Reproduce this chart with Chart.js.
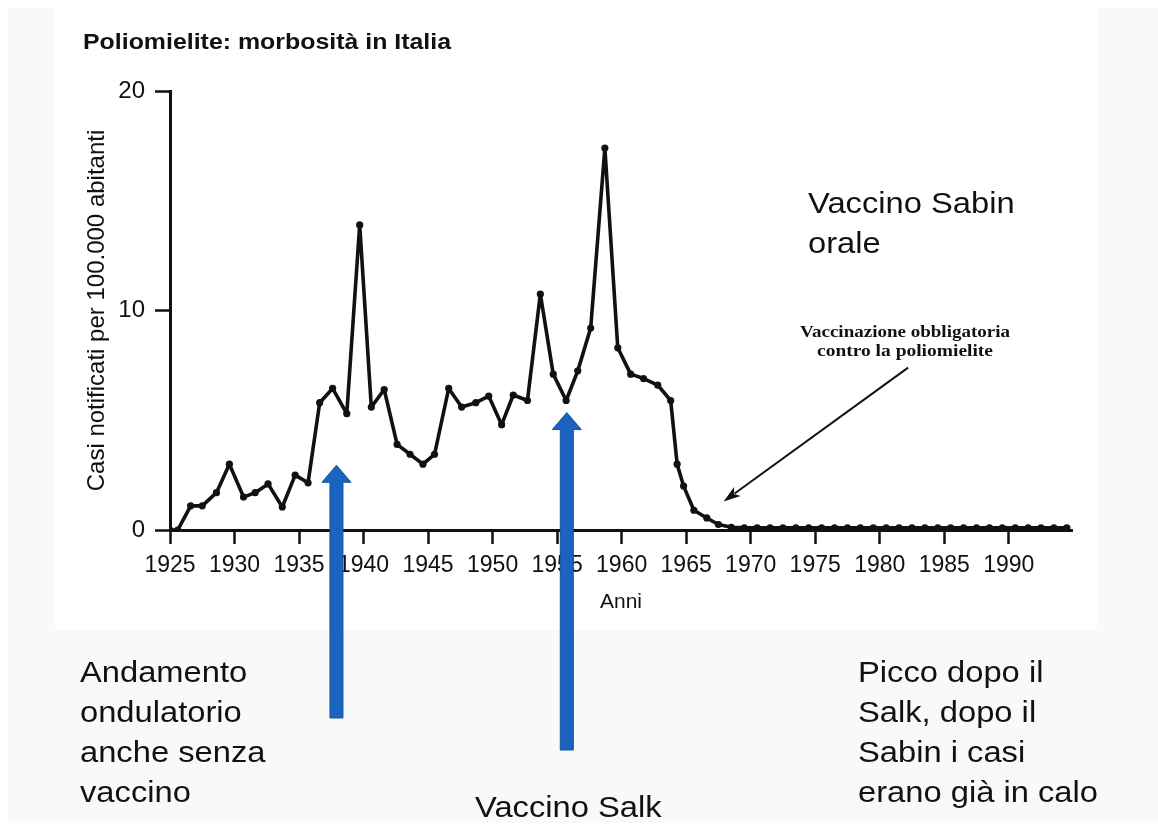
<!DOCTYPE html>
<html>
<head>
<meta charset="utf-8">
<script src="https://cdn.jsdelivr.net/npm/chart.js@4.4.1/dist/chart.umd.min.js"></script>
<style>
  html, body { margin: 0; padding: 0; background: #fff; }
  #wrap { width: 1158px; height: 827px; }
</style>
</head>
<body>
<div id="wrap"><canvas id="polio" width="1158" height="827"></canvas></div>
<script>
// ── Data (cases per 100.000 inhabitants) ──
const years = [
  1925, 1925.6, 1926.6, 1927.5, 1928.6, 1929.6, 1930.7, 1931.6, 1932.6, 1933.7,
  1934.7, 1935.7, 1936.6, 1937.6, 1938.7, 1939.7, 1940.6, 1941.6, 1942.6, 1943.6,
  1944.6, 1945.5, 1946.6, 1947.6, 1948.7, 1949.7, 1950.7, 1951.6, 1952.7, 1953.7,
  1954.7, 1955.7, 1956.6, 1957.6, 1958.7, 1959.7, 1960.7, 1961.7, 1962.8, 1963.8,
  1964.3, 1964.8, 1965.6, 1966.6, 1967.5, 1968.5, 1969.5, 1970.5, 1971.5, 1972.5,
  1973.5, 1974.5, 1975.5, 1976.5, 1977.5, 1978.5, 1979.5, 1980.5, 1981.5, 1982.5,
  1983.5, 1984.5, 1985.5, 1986.5, 1987.5, 1988.5, 1989.5, 1990.5, 1991.5, 1992.5,
  1993.5, 1994.5
];
const cases = [
  0, 0, 1.1, 1.1, 1.7, 3.0, 1.5, 1.7, 2.1, 1.05,
  2.5, 2.15, 5.8, 6.45, 5.3, 13.9, 5.6, 6.4, 3.9, 3.45,
  3.0, 3.45, 6.45, 5.6, 5.8, 6.1, 4.8, 6.15, 5.9, 10.75,
  7.1, 5.9, 7.25, 9.2, 17.4, 8.3, 7.1, 6.9, 6.6, 5.9,
  3.0, 2.0, 0.9, 0.55, 0.25, 0.12, 0.1, 0.1, 0.1, 0.1,
  0.1, 0.1, 0.1, 0.1, 0.1, 0.1, 0.1, 0.1, 0.1, 0.1,
  0.1, 0.1, 0.1, 0.1, 0.1, 0.1, 0.1, 0.1, 0.1, 0.1,
  0.1, 0.1
];
const xTickYears = [1925, 1930, 1935, 1940, 1945, 1950, 1955, 1960, 1965, 1970, 1975, 1980, 1985, 1990];
const yTickValues = [0, 10, 20];

const chartTitle = 'Poliomielite: morbosità in Italia';
const yTitle = 'Casi notificati per 100.000 abitanti';
const xTitle = 'Anni';
const noteSmall = ['Vaccinazione obbligatoria', 'contro la poliomielite'];
const noteSabin = ['Vaccino Sabin', 'orale'];
const noteLeft = ['Andamento', 'ondulatorio', 'anche senza', 'vaccino'];
const noteSalk = 'Vaccino Salk';
const noteRight = ['Picco dopo il', 'Salk, dopo il', 'Sabin i casi', 'erano già in calo'];

const INK = '#111';
const BLUE = '#1a63be';
const SANS = '"Liberation Sans", Arial, sans-serif';

// ── Drawing helpers ──
function drawText(ctx, text, x, y, font, opts = {}) {
  ctx.save();
  ctx.font = font;
  ctx.fillStyle = opts.color || INK;
  ctx.textBaseline = 'alphabetic';
  ctx.textAlign = opts.align || 'left';
  let sx = opts.sx || 1;
  if (opts.width) sx = opts.width / ctx.measureText(text).width;
  ctx.translate(x, y);
  ctx.scale(sx, 1);
  ctx.fillText(text, 0, 0);
  ctx.restore();
}

function upArrow(ctx, x, tipY, bottomY) {
  const shaft = 13, head = 29, headH = 17;
  ctx.save();
  ctx.beginPath();
  ctx.moveTo(x, tipY);
  ctx.lineTo(x + head / 2, tipY + headH);
  ctx.lineTo(x + shaft / 2, tipY + headH);
  ctx.lineTo(x + shaft / 2, bottomY);
  ctx.lineTo(x - shaft / 2, bottomY);
  ctx.lineTo(x - shaft / 2, tipY + headH);
  ctx.lineTo(x - head / 2, tipY + headH);
  ctx.closePath();
  ctx.fillStyle = BLUE;
  ctx.fill();
  ctx.strokeStyle = '#16529c';
  ctx.lineWidth = 1;
  ctx.stroke();
  ctx.restore();
}

function blackArrow(ctx, x1, y1, x2, y2) {
  const a = Math.atan2(y2 - y1, x2 - x1);
  const len = 17, half = 5.5;
  ctx.save();
  ctx.strokeStyle = INK;
  ctx.fillStyle = INK;
  ctx.lineWidth = 2;
  ctx.beginPath();
  ctx.moveTo(x1, y1);
  ctx.lineTo(x2 - Math.cos(a) * len * 0.8, y2 - Math.sin(a) * len * 0.8);
  ctx.stroke();
  ctx.beginPath();
  ctx.moveTo(x2, y2);
  ctx.lineTo(x2 - Math.cos(a) * len - Math.sin(a) * half, y2 - Math.sin(a) * len + Math.cos(a) * half);
  ctx.lineTo(x2 - Math.cos(a) * len * 0.75, y2 - Math.sin(a) * len * 0.75);
  ctx.lineTo(x2 - Math.cos(a) * len + Math.sin(a) * half, y2 - Math.sin(a) * len - Math.cos(a) * half);
  ctx.closePath();
  ctx.fill();
  ctx.restore();
}

// ── Plugins ──
const slideBackground = {
  id: 'slideBackground',
  beforeDraw(chart) {
    const ctx = chart.ctx;
    ctx.save();
    ctx.fillStyle = '#fff';
    ctx.fillRect(0, 0, chart.width, chart.height);
    ctx.fillStyle = '#f9f9f9';
    ctx.fillRect(8, 8, chart.width - 8, 815);
    ctx.fillStyle = '#fff';
    ctx.fillRect(55, 8, 1042, 622);
    ctx.restore();
  }
};

const slideNotes = {
  id: 'slideNotes',
  afterDraw(chart) {
    const ctx = chart.ctx;
    const x = chart.scales.x, y = chart.scales.y;

    drawText(ctx, chartTitle, 83, 49, 'bold 22px ' + SANS, { width: 368 });

    // small caption from the scanned figure + its arrow
    drawText(ctx, noteSmall[0], 905, 337, 'bold 16px "Liberation Serif", "Times New Roman", serif', { align: 'center', width: 210 });
    drawText(ctx, noteSmall[1], 905, 356, 'bold 16px "Liberation Serif", "Times New Roman", serif', { align: 'center', width: 176 });
    blackArrow(ctx, x.getPixelForValue(1982.2), y.getPixelForValue(7.4), x.getPixelForValue(1967.9), y.getPixelForValue(1.3));

    // slide annotations
    const f = '30px ' + SANS;
    const sx = 1.09;
    noteSabin.forEach((t, i) => drawText(ctx, t, 808, 213 + i * 40, f, { sx }));
    noteLeft.forEach((t, i) => drawText(ctx, t, 80, 682 + i * 40, f, { sx }));
    noteRight.forEach((t, i) => drawText(ctx, t, 858, 682 + i * 40, f, { sx }));
    drawText(ctx, noteSalk, 475, 817, f, { sx });

    // blue arrows: pre-vaccine wave and Salk vaccine
    upArrow(ctx, x.getPixelForValue(1937.9), y.getPixelForValue(2.95), 718);
    upArrow(ctx, x.getPixelForValue(1955.75), y.getPixelForValue(5.35), 750);
  }
};

// ── Chart ──
new Chart(document.getElementById('polio'), {
  type: 'line',
  data: {
    datasets: [{
      data: years.map((yr, i) => ({ x: yr, y: cases[i] })),
      borderColor: INK,
      borderWidth: 3.6,
      borderJoinStyle: 'round',
      borderCapStyle: 'round',
      pointRadius: 3.6,
      pointBackgroundColor: INK,
      pointBorderWidth: 0,
      tension: 0,
    }]
  },
  options: {
    responsive: false,
    animation: false,
    devicePixelRatio: 1,
    layout: { padding: { left: 0, top: 91, right: 86, bottom: 212 } },
    plugins: { legend: { display: false }, tooltip: { enabled: false } },
    scales: {
      x: {
        type: 'linear',
        min: 1925,
        max: 1994.9,
        afterBuildTicks: ax => { ax.ticks = xTickYears.map(v => ({ value: v })); },
        afterFit: ax => { ax.height = 85; },
        border: { color: INK, width: 3 },
        grid: { drawOnChartArea: false, tickLength: 14, tickWidth: 2.5, tickColor: INK },
        ticks: { color: INK, font: { family: SANS, size: 23 }, padding: 8, maxRotation: 0, autoSkip: false, callback: v => String(v) },
        title: { display: true, text: xTitle, color: INK, font: { family: SANS, size: 21 }, padding: 0 }
      },
      y: {
        min: 0,
        max: 20,
        afterBuildTicks: ax => { ax.ticks = yTickValues.map(v => ({ value: v })); },
        afterFit: ax => { ax.width = 170; },
        border: { color: INK, width: 3 },
        grid: { drawOnChartArea: false, tickLength: 15, tickWidth: 2.5, tickColor: INK },
        ticks: { color: INK, font: { family: SANS, size: 24 }, padding: 10 },
        title: { display: true, text: yTitle, color: INK, font: { family: SANS, size: 24 }, padding: { top: 83, bottom: 0 } }
      }
    }
  },
  plugins: [slideBackground, slideNotes]
});
</script>
</body>
</html>
